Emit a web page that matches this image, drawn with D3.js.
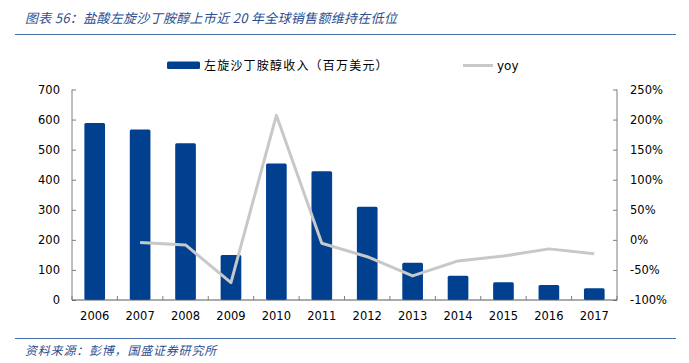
<!DOCTYPE html>
<html><head><meta charset="utf-8">
<script src="https://cdn.jsdelivr.net/npm/d3@7/dist/d3.min.js"></script>
<style>body{margin:0;background:#fff}svg{display:block}</style>
</head><body>
<svg id="c" width="689" height="363"></svg>
<script>
const years = ["2006","2007","2008","2009","2010","2011","2012","2013","2014","2015","2016","2017"];
const revenue = [589, 567, 521, 150, 454, 428, 310, 124, 81, 59, 50, 39];
const yoy = [null, -4.5, -8.5, -71, 207, -5.7, -28, -60, -35, -27, -15, -23];
const leftTicks = [0,100,200,300,400,500,600,700];
const rightTicks = [-100,-50,0,50,100,150,200,250];
const title = "图表 56：盐酸左旋沙丁胺醇上市近 20 年全球销售额维持在低位";
const source = "资料来源：彭博，国盛证券研究所";
const seriesNames = ["左旋沙丁胺醇收入（百万美元）", "yoy"];

const svg = d3.select("#c");
const m = {l:72, r:617, t:89.5, b:300};
const font = "'DejaVu Sans', Verdana, sans-serif";
const cjk = "'Noto Sans CJK SC', sans-serif";
const blueText = "#2b4f8f";

// title
svg.append("text").attr("x",25).attr("y",23).attr("font-family",cjk).attr("font-size",13)
  .attr("font-style","italic").attr("letter-spacing",0.3).attr("fill",blueText).text(title);
svg.append("line").attr("x1",15).attr("x2",676).attr("y1",34.5).attr("y2",34.5).attr("stroke","#4a6fa8").attr("stroke-width",1.2);

const x = d3.scaleBand().domain(years).range([m.l,m.r]).paddingInner(0.545).paddingOuter(0.2725);
const xb = d3.scaleBand().domain(years).range([m.l,m.r]);
const yL = d3.scaleLinear().domain([0,700]).range([m.b,m.t]);
const yR = d3.scaleLinear().domain([-100,250]).range([m.b,m.t]);

// bars
svg.append("g").selectAll("rect").data(revenue).join("rect")
  .attr("x",(d,i)=>x(years[i])).attr("width",x.bandwidth())
  .attr("y",d=>yL(d)).attr("height",d=>yL(0)-yL(d))
  .attr("fill","#00408f").attr("rx",1.5);

// line
const line = d3.line().defined(d=>d!=null).x((d,i)=>xb(years[i])+xb.bandwidth()/2).y(d=>yR(d));
svg.append("path").datum(yoy).attr("d",line).attr("fill","none")
  .attr("stroke","#c8c8c8").attr("stroke-width",3).attr("stroke-linejoin","round");

// axes
const axColor = "#7f7f7f";
const gL = svg.append("g").attr("transform",`translate(${m.l},0)`)
  .call(d3.axisLeft(yL).tickValues(leftTicks).tickSize(-4).tickPadding(12));
const gR = svg.append("g").attr("transform",`translate(${m.r},0)`)
  .call(d3.axisRight(yR).tickValues(rightTicks).tickSize(-4).tickPadding(13).tickFormat(d=>d+"%"));
const gB = svg.append("g").attr("transform",`translate(0,${m.b})`)
  .call(d3.axisBottom(xb).tickSize(0).tickPadding(12));
// category boundary ticks (inside)
svg.append("g").selectAll("line").data(d3.range(years.length+1)).join("line")
  .attr("x1",i=>m.l+i*xb.step()).attr("x2",i=>m.l+i*xb.step())
  .attr("y1",m.b).attr("y2",m.b-4).attr("stroke",axColor);
[gL,gR,gB].forEach(g=>{
  g.selectAll("path").attr("stroke",axColor).attr("stroke-width",1);
  g.selectAll("line").attr("stroke",axColor);
  g.selectAll("text").attr("font-family",font).attr("font-size",11.5).attr("fill","#000");
});
gL.select(".domain").attr("d",`M0,${m.t}V${m.b}`);
gR.select(".domain").attr("d",`M0,${m.t}V${m.b}`);
gB.select(".domain").attr("d",`M${m.l},0H${m.r}`).attr("stroke","#595959");

// legend
const lg = svg.append("g");
lg.append("rect").attr("x",167).attr("y",61.5).attr("width",33).attr("height",7.5).attr("rx",1.5).attr("fill","#00408f");
lg.append("text").attr("x",204).attr("y",69.5).attr("font-family",cjk).attr("font-size",12)
  .attr("letter-spacing",1.2).attr("fill","#000").text(seriesNames[0]);
lg.append("line").attr("x1",463).attr("x2",493).attr("y1",65.5).attr("y2",65.5).attr("stroke","#c8c8c8").attr("stroke-width",3);
lg.append("text").attr("x",497).attr("y",70).attr("font-family",font).attr("font-size",12).attr("fill","#000").text(seriesNames[1]);

// source
svg.append("line").attr("x1",15).attr("x2",676).attr("y1",338.5).attr("y2",338.5).attr("stroke","#4a6fa8").attr("stroke-width",1.2);
svg.append("text").attr("x",25).attr("y",355).attr("font-family",cjk).attr("font-size",12)
  .attr("font-style","italic").attr("letter-spacing",0.8).attr("fill",blueText).text(source);
</script>
</body></html>
